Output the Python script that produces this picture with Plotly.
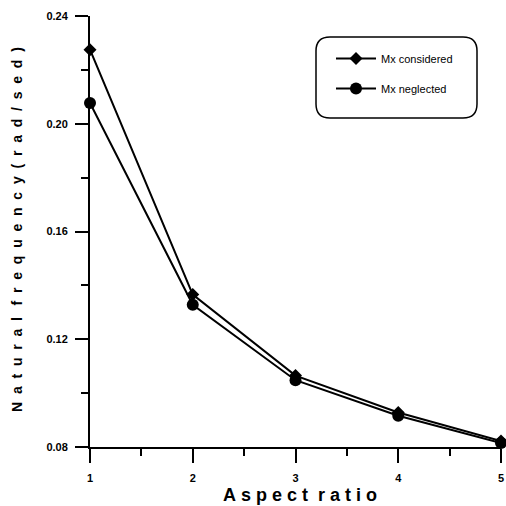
import plotly.graph_objects as go

aspect_ratio = [1, 2, 3, 4, 5]
mx_considered = [0.2275, 0.1366, 0.1065, 0.0928, 0.0822]
mx_neglected = [0.2077, 0.1328, 0.1048, 0.0916, 0.0815]

FONT = "Liberation Sans"
NB = "\u00a0"

# plot area in pixels
L, R, T, B = 90, 501, 16, 447
W, H = R - L, B - T

def px_x(p):
    return (p - L) / W

def px_y(p):
    return (B - p) / H

def spaced(s, gap, wordgap):
    words = s.split(" ")
    return (NB * wordgap).join((NB * gap).join(w) for w in words)

fig = go.Figure()
fig.add_trace(go.Scatter(
    x=aspect_ratio, y=mx_considered, mode="lines+markers", name="Mx considered",
    line=dict(color="black", width=2),
    marker=dict(symbol="diamond", size=10, color="black"),
    cliponaxis=False, legendgroup="a"))
fig.add_trace(go.Scatter(
    x=aspect_ratio, y=mx_neglected, mode="lines+markers", name="Mx neglected",
    line=dict(color="black", width=2),
    marker=dict(symbol="circle", size=12, color="black"),
    cliponaxis=False, legendgroup="b"))

fig.update_layout(
    width=506, height=506,
    margin=dict(l=L, r=506 - R, t=T, b=506 - B, autoexpand=False),
    paper_bgcolor="white", plot_bgcolor="white",
    font=dict(family=FONT, color="black"),
    showlegend=True,
    legend=dict(x=px_x(331), y=px_y(44), xanchor="left", yanchor="top",
                bgcolor="rgba(0,0,0,0)", font=dict(size=11, family=FONT),
                traceorder="grouped", tracegroupgap=11, itemwidth=40),
    xaxis=dict(range=[1, 5], tickvals=[1, 2, 3, 4, 5], ticks="outside", ticklen=14,
               tickwidth=2, tickcolor="black", showline=True, linecolor="black", linewidth=2,
               showgrid=False, zeroline=False, automargin=False, ticklabelstandoff=6,
               tickfont=dict(size=11, family=FONT, weight="bold"),
               minor=dict(tickvals=[1.5, 2.5, 3.5, 4.5], ticks="outside", ticklen=7,
                          tickwidth=2, tickcolor="black")),
    yaxis=dict(range=[0.08, 0.24], tickvals=[0.08, 0.12, 0.16, 0.20, 0.24], tickformat=".2f",
               ticks="outside", ticklen=13, tickwidth=2, tickcolor="black",
               showline=True, linecolor="black", linewidth=2,
               showgrid=False, zeroline=False, automargin=False, ticklabelstandoff=5,
               tickfont=dict(size=11, family=FONT, weight="bold"),
               minor=dict(tickvals=[0.10, 0.14, 0.18, 0.22], ticks="outside", ticklen=7,
                          tickwidth=2, tickcolor="black")),
)

fig.add_annotation(text=spaced("Aspect ratio", 1, 2), xref="paper", yref="paper",
                   x=px_x(300), y=px_y(495), xanchor="center", yanchor="middle",
                   showarrow=False, font=dict(size=18, family=FONT, weight="bold"))
fig.add_annotation(text=spaced("Natural frequency(rad/sed)", 2, 3), xref="paper", yref="paper",
                   x=px_x(17), y=px_y(230), xanchor="center", yanchor="middle", textangle=-90,
                   showarrow=False, font=dict(size=14, family=FONT, weight="bold"))

# rounded legend frame
x0, x1, y0, y1 = px_x(316), px_x(477), px_y(118), px_y(37)
rx, ry = 14 / W, 14 / H
path = (f"M {x0+rx},{y1} L {x1-rx},{y1} Q {x1},{y1} {x1},{y1-ry} "
        f"L {x1},{y0+ry} Q {x1},{y0} {x1-rx},{y0} L {x0+rx},{y0} "
        f"Q {x0},{y0} {x0},{y0+ry} L {x0},{y1-ry} Q {x0},{y1} {x0+rx},{y1} Z")
fig.add_shape(type="path", path=path, xref="paper", yref="paper",
              line=dict(color="black", width=1.5))

fig.write_html("out.html", config={"displayModeBar": False},
               post_script="document.body.style.margin='0';document.body.style.overflow='hidden';")
